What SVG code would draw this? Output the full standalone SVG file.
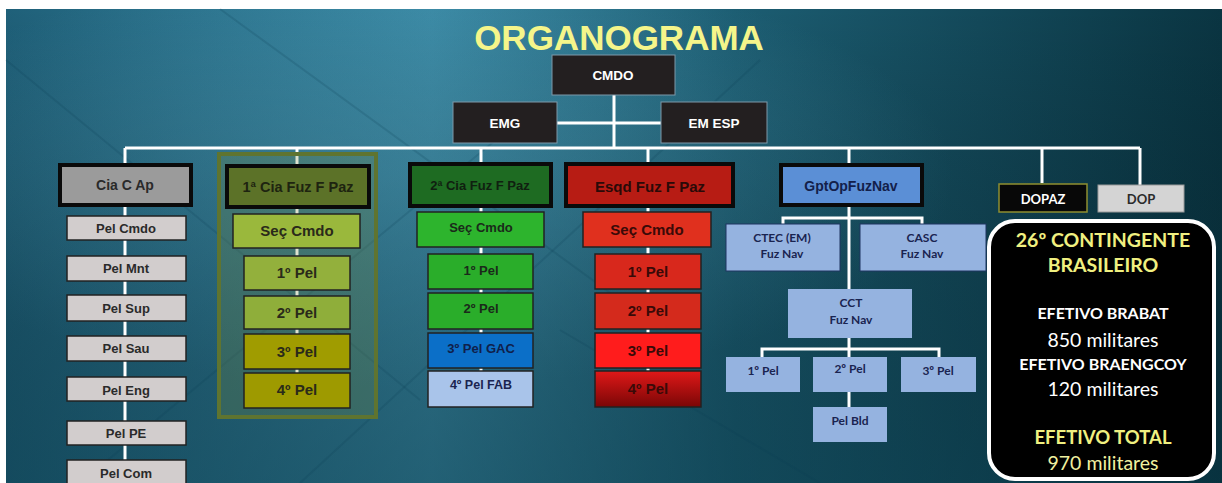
<svg xmlns="http://www.w3.org/2000/svg" width="1222" height="483" viewBox="0 0 1222 483">
<defs>
<linearGradient id="bg" x1="0" y1="0" x2="1" y2="0">
<stop offset="0" stop-color="#1f6079"/>
<stop offset="0.35" stop-color="#3a88a3"/>
<stop offset="0.6" stop-color="#1c5d72"/>
<stop offset="1" stop-color="#0a3542"/>
</linearGradient>
<radialGradient id="hl" cx="0.33" cy="0.35" r="0.45">
<stop offset="0" stop-color="#4a9ab5" stop-opacity="0.55"/>
<stop offset="1" stop-color="#4a9ab5" stop-opacity="0"/>
</radialGradient>
<linearGradient id="dark" x1="0" y1="0" x2="0" y2="1">
<stop offset="0" stop-color="#000" stop-opacity="0"/>
<stop offset="1" stop-color="#06303d" stop-opacity="0.45"/>
</linearGradient>
<linearGradient id="red4" x1="0" y1="0" x2="0" y2="1">
<stop offset="0" stop-color="#e01818"/>
<stop offset="1" stop-color="#7a0606"/>
</linearGradient>
<style>
.t{font-family:"Liberation Sans",Arial,sans-serif;font-weight:bold;text-anchor:middle;dominant-baseline:central}
.c{font-family:Lato,"Open Sans",sans-serif;font-weight:bold;text-anchor:middle;dominant-baseline:central}
.blk{fill:#231f20;stroke:#7d98a8;stroke-width:1}
.thick{stroke:#0a0a0a;stroke-width:4}
.thin{stroke:#222;stroke-width:1.5}
.nav{fill:#95b3e0;stroke:#1f3560;stroke-width:1}
.line{stroke:#fff;stroke-width:3;fill:none}
</style>
</defs>
<rect x="0" y="0" width="1222" height="483" fill="#fff"/>
<rect x="6" y="9" width="1216" height="474" fill="url(#bg)"/>
<rect x="6" y="9" width="1216" height="474" fill="url(#hl)"/>
<rect x="6" y="9" width="1216" height="474" fill="url(#dark)"/>
<g stroke="#0d3f52" stroke-opacity="0.18" stroke-width="2" fill="none">
<path d="M6 60 L420 400"/>
<path d="M80 483 L520 120"/>
<path d="M220 9 L620 300"/>
<path d="M300 483 L760 60"/>
<path d="M560 330 L820 483"/>
</g>
<text x="619" y="37" class="t" font-size="35" fill="#f5f58a">ORGANOGRAMA</text>

<g id="connectors" class="line">
<path d="M614 95 V148"/>
<path d="M557 123 H661"/>
<path d="M125 148 H1140"/>
<path d="M125 148 V483"/>
<path d="M297 148 V373"/>
<path d="M481 148 V371"/>
<path d="M648 148 V371"/>
<path d="M849 148 V357"/>
<path d="M1042 148 V183"/>
<path d="M1140 148 V185"/>
<path d="M783 224 V218 H922 V224"/>
<path d="M762 357 V349 H939 V357"/>
<path d="M849 392 V407"/>
</g>

<g id="cmdo"><rect x="552" y="55" width="123" height="40" class="blk"/><text x="613" y="75" class="t" font-size="13.5" fill="#fff">CMDO</text></g>
<g id="emg"><rect x="453" y="102" width="104" height="41" class="blk"/><text x="505" y="123" class="t" font-size="13.5" fill="#fff">EMG</text></g>
<g id="emesp"><rect x="661" y="102" width="106" height="41" class="blk"/><text x="714" y="123" class="t" font-size="13.5" fill="#fff">EM ESP</text></g>

<g id="ciacap"><rect x="60" y="165" width="131" height="40" fill="#9b9b9b" class="thick"/><text x="125" y="185" class="t" font-size="14" fill="#2a2a2a">Cia C Ap</text></g>
<g id="pelcmdo"><rect x="67" y="216" width="119" height="24" fill="#d2cdcd" class="thin"/><text x="126" y="228" class="t" font-size="13" fill="#2a2a2a">Pel Cmdo</text></g>
<g id="pelmnt"><rect x="67" y="256" width="119" height="25" fill="#d2cdcd" class="thin"/><text x="126" y="268" class="t" font-size="13" fill="#2a2a2a">Pel Mnt</text></g>
<g id="pelsup"><rect x="67" y="295" width="119" height="26" fill="#d2cdcd" class="thin"/><text x="126" y="308" class="t" font-size="13" fill="#2a2a2a">Pel Sup</text></g>
<g id="pelsau"><rect x="67" y="336" width="119" height="25" fill="#d2cdcd" class="thin"/><text x="126" y="348" class="t" font-size="13" fill="#2a2a2a">Pel Sau</text></g>
<g id="peleng"><rect x="67" y="377" width="119" height="24" fill="#d2cdcd" class="thin"/><text x="126" y="390" class="t" font-size="13" fill="#2a2a2a">Pel Eng</text></g>
<g id="pelpe"><rect x="67" y="421" width="119" height="24" fill="#d2cdcd" class="thin"/><text x="126" y="433" class="t" font-size="13" fill="#2a2a2a">Pel PE</text></g>
<g id="pelcom"><rect x="67" y="460" width="119" height="26" fill="#d2cdcd" class="thin"/><text x="126" y="473" class="t" font-size="13" fill="#2a2a2a">Pel Com</text></g>

<g id="frame1"><rect x="219" y="154" width="157" height="263" fill="#7a8a3a" fill-opacity="0.25" stroke="#5f7430" stroke-width="4"/></g>
<g id="cia1"><rect x="227" y="166" width="142" height="41" fill="#5c7228" class="thick"/><text x="298" y="187" class="t" font-size="14.5" fill="#1e2410">1ª Cia Fuz F Paz</text></g>
<g id="c1sec"><rect x="233" y="214" width="127" height="34" fill="#9ab83c" class="thin"/><text x="297" y="230" class="t" font-size="15" fill="#2a2a1a">Seç Cmdo</text></g>
<g id="c1p1"><rect x="244" y="256" width="106" height="34" fill="#93b03c" class="thin"/><text x="297" y="272" class="t" font-size="15" fill="#2a2a1a">1º Pel</text></g>
<g id="c1p2"><rect x="244" y="296" width="106" height="33" fill="#8fae3a" class="thin"/><text x="297" y="312" class="t" font-size="15" fill="#2a2a1a">2º Pel</text></g>
<g id="c1p3"><rect x="244" y="334" width="106" height="35" fill="#a09c00" class="thin"/><text x="297" y="351" class="t" font-size="15" fill="#2a2a1a">3º Pel</text></g>
<g id="c1p4"><rect x="244" y="373" width="106" height="35" fill="#9e9a00" class="thin"/><text x="297" y="389" class="t" font-size="15" fill="#2a2a1a">4º Pel</text></g>

<g id="cia2"><rect x="410" y="164" width="141" height="42" fill="#1e6b22" class="thick"/><text x="480" y="185" class="t" font-size="13" fill="#102010">2ª Cia Fuz F Paz</text></g>
<g id="c2sec"><rect x="417" y="212" width="127" height="35" fill="#2db42d" class="thin"/><text x="481" y="227" class="t" font-size="13" fill="#1a2a1a">Seç Cmdo</text></g>
<g id="c2p1"><rect x="428" y="254" width="105" height="35" fill="#2aad2a" class="thin"/><text x="481" y="270" class="t" font-size="13" fill="#1a2a1a">1º Pel</text></g>
<g id="c2p2"><rect x="428" y="293" width="105" height="36" fill="#2aad2a" class="thin"/><text x="481" y="308" class="t" font-size="13" fill="#1a2a1a">2º Pel</text></g>
<g id="c2p3"><rect x="428" y="333" width="105" height="35" fill="#0b6fc8" class="thin"/><text x="481" y="348" class="t" font-size="13" fill="#10204a">3º Pel  GAC</text></g>
<g id="c2p4"><rect x="428" y="371" width="105" height="36" fill="#a9c4ea" class="thin"/><text x="481" y="385" class="t" font-size="12.5" fill="#1a2450">4º Pel FAB</text></g>

<g id="esqd"><rect x="566" y="164" width="167" height="42" fill="#b71c14" class="thick"/><text x="650" y="186" class="t" font-size="15" fill="#2a0a08">Esqd Fuz F Paz</text></g>
<g id="e_sec"><rect x="583" y="212" width="128" height="35" fill="#e0301e" class="thin"/><text x="647" y="229" class="t" font-size="15" fill="#3a0a08">Seç Cmdo</text></g>
<g id="e_p1"><rect x="595" y="254" width="106" height="35" fill="#d8281c" class="thin"/><text x="648" y="271" class="t" font-size="15" fill="#3a0a08">1º Pel</text></g>
<g id="e_p2"><rect x="595" y="293" width="106" height="36" fill="#d42a1c" class="thin"/><text x="648" y="310" class="t" font-size="15" fill="#3a0a08">2º Pel</text></g>
<g id="e_p3"><rect x="595" y="333" width="106" height="35" fill="#ff1c1c" class="thin"/><text x="648" y="350" class="t" font-size="15" fill="#3a0a08">3º Pel</text></g>
<g id="e_p4"><rect x="595" y="371" width="106" height="36" fill="url(#red4)" class="thin"/><text x="648" y="388" class="t" font-size="15" fill="#3a0a08">4º Pel</text></g>

<g id="gpt"><rect x="781" y="165" width="141" height="40" fill="#5b8fd6" class="thick"/><text x="851" y="186" class="t" font-size="14" fill="#13204a">GptOpFuzNav</text></g>
<g id="ctec"><rect x="726" y="224" width="114" height="47" class="nav"/><text x="782" y="237" class="c" font-size="12" fill="#1a2450">CTEC (EM)</text><text x="782" y="253" class="c" font-size="12" fill="#1a2450">Fuz Nav</text></g>
<g id="casc"><rect x="860" y="224" width="126" height="47" class="nav"/><text x="922" y="237" class="c" font-size="12" fill="#1a2450">CASC</text><text x="922" y="253" class="c" font-size="12" fill="#1a2450">Fuz Nav</text></g>
<g id="cct"><rect x="788" y="289" width="124" height="49" fill="#95b3e0"/><text x="851" y="302" class="c" font-size="12" fill="#1a2450">CCT</text><text x="851" y="319" class="c" font-size="12" fill="#1a2450">Fuz Nav</text></g>
<g id="n_p1"><rect x="726" y="357" width="74" height="35" fill="#95b3e0"/><text x="763" y="370" class="c" font-size="12" fill="#1a2450">1º Pel</text></g>
<g id="n_p2"><rect x="813" y="357" width="74" height="35" fill="#95b3e0"/><text x="850" y="368" class="c" font-size="12" fill="#1a2450">2º Pel</text></g>
<g id="n_p3"><rect x="901" y="357" width="75" height="35" fill="#95b3e0"/><text x="938" y="370" class="c" font-size="12" fill="#1a2450">3º Pel</text></g>
<g id="n_bld"><rect x="813" y="407" width="74" height="35" fill="#95b3e0"/><text x="850" y="420" class="c" font-size="12" fill="#1a2450">Pel Bld</text></g>

<g id="dopaz"><rect x="999" y="184" width="88" height="28" fill="#080808" stroke="#8e8e30" stroke-width="1.5"/><text x="1043" y="199" class="c" font-size="13" fill="#fff">DOPAZ</text></g>
<g id="dop"><rect x="1098" y="185" width="86" height="27" fill="#d4d4d4" stroke="#9a9a9a" stroke-width="1"/><text x="1141" y="199" class="c" font-size="13" fill="#2a2a2a">DOP</text></g>

<g id="info">
<rect x="989" y="221" width="225" height="258" rx="26" ry="26" fill="#000" stroke="#fff" stroke-width="4"/>
<g font-family="Lato,'Open Sans',sans-serif" text-anchor="middle">
<text x="1103" y="247" font-size="19.5" font-weight="bold" fill="#f0f080">26º CONTINGENTE</text>
<text x="1103" y="272" font-size="19.5" font-weight="bold" fill="#f0f080">BRASILEIRO</text>
<text x="1103" y="319" font-size="16" font-weight="bold" fill="#fff">EFETIVO BRABAT</text>
<text x="1103" y="347" font-size="19.5" fill="#fff">850 militares</text>
<text x="1103" y="370" font-size="16" font-weight="bold" fill="#fff">EFETIVO BRAENGCOY</text>
<text x="1103" y="396" font-size="19.5" fill="#fff">120 militares</text>
<text x="1103" y="444" font-size="18.5" font-weight="bold" fill="#f0f080">EFETIVO TOTAL</text>
<text x="1103" y="470" font-size="19.5" fill="#f0f0a0">970 militares</text>
</g>
</g>
</svg>
